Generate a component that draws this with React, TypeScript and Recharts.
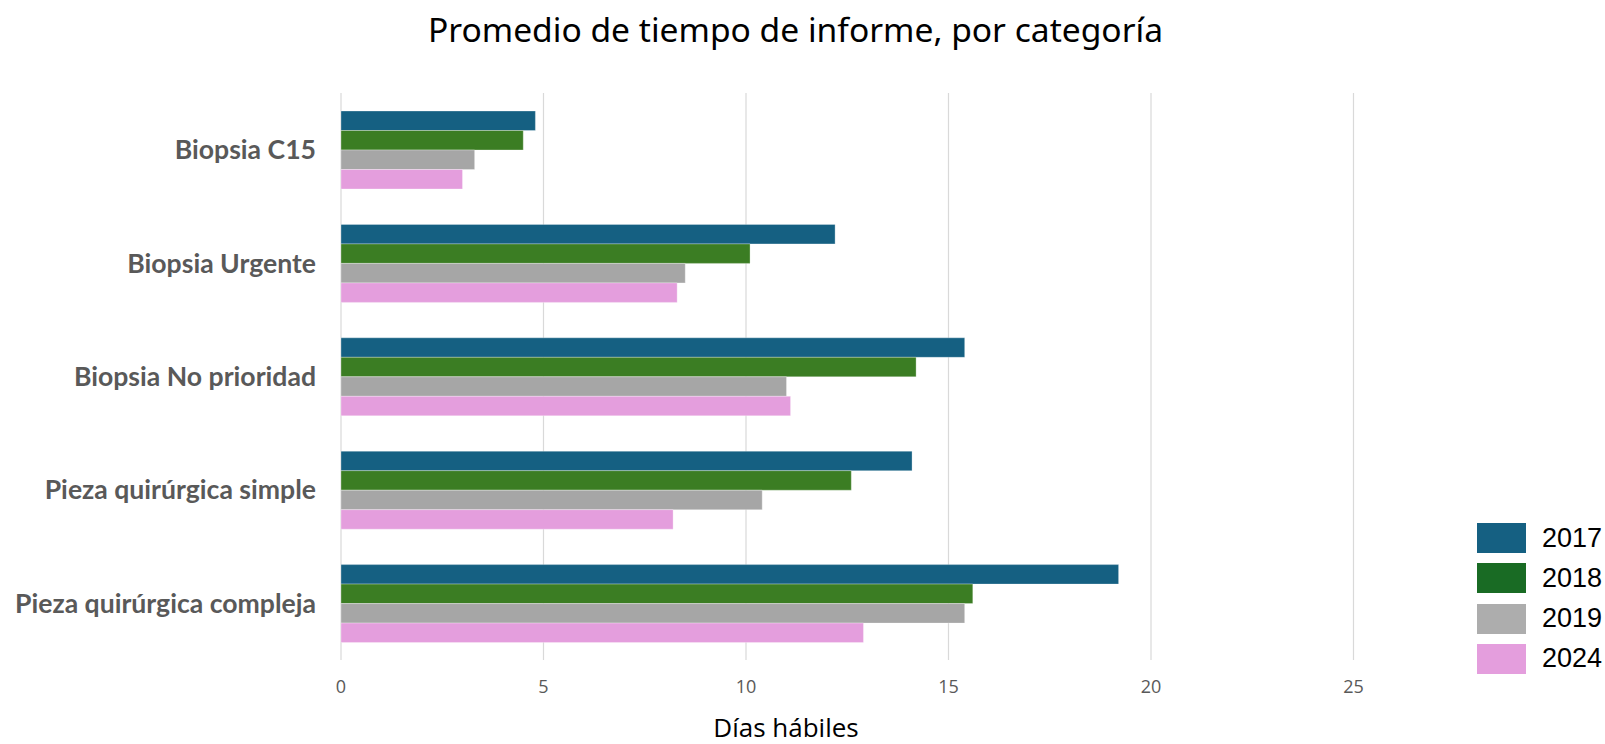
import React from 'react';
import { BarChart, Bar, XAxis, YAxis, CartesianGrid } from 'recharts';

const categories = ['Biopsia C15', 'Biopsia Urgente', 'Biopsia No prioridad', 'Pieza quirúrgica simple', 'Pieza quirúrgica compleja'];
const years = ['2017', '2018', '2019', '2024'];
const v2017 = [4.8, 12.2, 15.4, 14.1, 19.2];
const v2018 = [4.5, 10.1, 14.2, 12.6, 15.6];
const v2019 = [3.3, 8.5, 11.0, 10.4, 15.4];
const v2024 = [3.0, 8.3, 11.1, 8.2, 12.9];
const xTicks = [0, 5, 10, 15, 20, 25];

const BAR_COLORS = ['#156082', '#3B7D23', '#A6A6A6', '#E49EDD'];
const LEGEND_COLORS = ['#156082', '#196B24', '#ADADAD', '#E49EDD'];

const data = categories.map((name, i) => ({
  name,
  '2017': v2017[i],
  '2018': v2018[i],
  '2019': v2019[i],
  '2024': v2024[i],
}));

export default function App() {
  return (
    <div style={{ position: 'relative', width: 1605, height: 744, background: '#fff', overflow: 'hidden' }}>
      <style>{`body{margin:0}`}</style>
      <div style={{ position: 'absolute', top: 12, left: 0, width: 1591, textAlign: 'center', fontSize: 33.6, lineHeight: '34px', fontFamily: '"Noto Sans", sans-serif', color: '#000', whiteSpace: 'nowrap' }}>
        Promedio de tiempo de informe, por categoría
      </div>
      <BarChart
        width={1605}
        height={744}
        data={data}
        layout="vertical"
        margin={{ top: 93, right: 251.5, bottom: 54, left: 0 }}
        barGap={0}
        barSize={19.5}
      >
        <CartesianGrid horizontal={false} stroke="#d9d9d9" strokeWidth={1.2} />
        <XAxis
          type="number"
          domain={[0, 25]}
          ticks={xTicks}
          height={30}
          axisLine={false}
          tickLine={false}
          tickMargin={14}
          tick={{ fill: '#595959', fontSize: 18, fontFamily: '"Open Sans", sans-serif' }}
        />
        <YAxis
          type="category"
          dataKey="name"
          width={341}
          axisLine={false}
          tickLine={false}
          tickMargin={19}
          tick={{ fill: '#595959', fontSize: 26.6, fontWeight: 700, fontFamily: 'Lato, sans-serif' }}
        />
        {years.map((y, i) => (
          <Bar key={y} dataKey={y} fill={BAR_COLORS[i]} stroke="rgba(255,255,255,0.3)" strokeWidth={1} isAnimationActive={false} />
        ))}
      </BarChart>
      <div style={{ position: 'absolute', left: 1477, top: 523, display: 'flex', flexDirection: 'column', gap: 10.3 }}>
        {years.map((y, i) => (
          <div key={y} style={{ display: 'flex', alignItems: 'center', height: 30 }}>
            <div style={{ width: 49, height: 30, background: LEGEND_COLORS[i], flex: 'none' }} />
            <span style={{ marginLeft: 16, fontSize: 27, fontFamily: '"Liberation Sans", Arial, sans-serif', color: '#000', whiteSpace: 'nowrap' }}>{y}</span>
          </div>
        ))}
      </div>
      <div style={{ position: 'absolute', top: 716, left: 0, width: 1572, textAlign: 'center', fontSize: 26, lineHeight: '22px', fontFamily: '"Open Sans", sans-serif', color: '#000', whiteSpace: 'nowrap' }}>
        Días hábiles
      </div>
    </div>
  );
}
